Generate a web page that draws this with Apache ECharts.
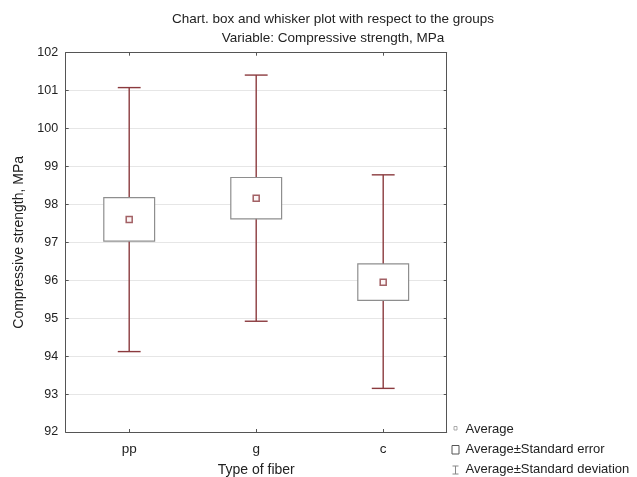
<!DOCTYPE html>
<html>
<head>
<meta charset="utf-8">
<script src="https://cdn.jsdelivr.net/npm/echarts@6/dist/echarts.min.js"></script>
<style>
html,body{margin:0;padding:0;background:#fff;}
#chart{width:637px;height:477px;}
</style>
</head>
<body>
<div id="chart"></div>
<script>
const categories = ['pp', 'g', 'c'];
const means  = [97.60, 98.16, 95.95];
const seLow  = [97.03, 97.62, 95.47];
const seHigh = [98.18, 98.71, 96.43];
const sdLow  = [94.12, 94.92, 93.15];
const sdHigh = [101.08, 101.41, 98.78];
const yTicks = [92, 93, 94, 95, 96, 97, 98, 99, 100, 101, 102];

const FONT = 'Liberation Sans, Arial, sans-serif';
const WHISKER = '#8b3a3e';
const BOXC = '#8e8e8e';
const AXIS = '#555';

const chart = echarts.init(document.getElementById('chart'), null, {renderer: 'canvas'});

const sdData = categories.map((c, i) => [i, sdLow[i], sdHigh[i]]);
const seData = categories.map((c, i) => [i, seLow[i], seHigh[i]]);
const meanData = categories.map((c, i) => [i, means[i]]);

const axisCommon = {
  axisLine: {show: true, lineStyle: {color: AXIS, width: 1}},
};

chart.setOption({
  animation: false,
  backgroundColor: '#fff',
  textStyle: {fontFamily: FONT},
  title: {
    text: 'Chart. box and whisker plot with respect to the groups\nVariable: Compressive strength, MPa',
    left: 328,
    top: 5,
    textAlign: 'center',
    textStyle: {fontFamily: FONT, fontSize: 13.5, fontWeight: 'normal', color: '#222', lineHeight: 19}
  },
  grid: {left: 65.7, right: 190.3, top: 52.7, bottom: 45, containLabel: false, outerBoundsMode: 'none'},
  legend: {
    orient: 'vertical',
    left: 450,
    top: 423,
    padding: 0,
    itemWidth: 10,
    itemHeight: 10,
    itemGap: 7,
    textStyle: {fontFamily: FONT, fontSize: 13, color: '#222'},
    selectedMode: false,
    data: [
      {name: 'Average', icon: 'path://M0,0M10,10M3.5,2h3v3.5h-3z',
       itemStyle: {color: 'transparent', borderColor: '#999', borderWidth: 1}},
      {name: 'Average±Standard error', icon: 'path://M0,0M10,10M1.5,1h7v8.5h-7z',
       itemStyle: {color: 'transparent', borderColor: '#555', borderWidth: 1}},
      {name: 'Average±Standard deviation', icon: 'path://M0,0M10,10M2,1.5h6M5,1.5v8M2,9.5h6',
       itemStyle: {color: 'transparent', borderColor: '#888', borderWidth: 1}}
    ]
  },
  xAxis: [
    Object.assign({}, axisCommon, {
      type: 'category', data: categories, position: 'bottom',
      name: 'Type of fiber', nameLocation: 'middle', nameGap: 31,
      nameTextStyle: {fontFamily: FONT, fontSize: 14, color: '#222'},
      axisTick: {show: true, inside: true, length: 3, alignWithLabel: true, lineStyle: {color: AXIS}},
      axisLabel: {fontFamily: FONT, fontSize: 13.5, color: '#222', margin: 10},
      splitLine: {show: false}
    }),
    Object.assign({}, axisCommon, {
      type: 'category', data: categories, position: 'top',
      axisTick: {show: true, inside: true, length: 3, alignWithLabel: true, lineStyle: {color: AXIS}},
      axisLabel: {show: false},
      splitLine: {show: false}
    })
  ],
  yAxis: [
    Object.assign({}, axisCommon, {
      type: 'value', min: yTicks[0], max: yTicks[yTicks.length - 1], interval: 1,
      position: 'left',
      name: 'Compressive strength, MPa', nameLocation: 'middle', nameGap: 36, nameRotate: 90,
      nameTextStyle: {fontFamily: FONT, fontSize: 14, color: '#222'},
      axisTick: {show: true, inside: true, length: 3, lineStyle: {color: AXIS}},
      axisLabel: {fontFamily: FONT, fontSize: 12.5, color: '#222', margin: 7.5},
      splitLine: {show: true, lineStyle: {color: '#e6e6e6', width: 1}}
    }),
    Object.assign({}, axisCommon, {
      type: 'value', min: yTicks[0], max: yTicks[yTicks.length - 1], interval: 1,
      position: 'right',
      axisTick: {show: true, inside: true, length: 3, lineStyle: {color: AXIS}},
      axisLabel: {show: false},
      splitLine: {show: false}
    })
  ],
  series: [
    {
      name: 'Average±Standard deviation',
      type: 'custom',
      xAxisIndex: 0, yAxisIndex: 0,
      data: sdData,
      encode: {x: 0, y: [1, 2]},
      itemStyle: {color: WHISKER},
      renderItem: function (params, api) {
        const x = api.value(0);
        const lo = api.coord([x, api.value(1)]);
        const hi = api.coord([x, api.value(2)]);
        const bw = api.size([1, 0])[0];
        const cap = bw * 0.09;
        const st = {stroke: WHISKER, lineWidth: 1.4, fill: null};
        return {
          type: 'group',
          children: [
            {type: 'line', shape: {x1: lo[0], y1: lo[1], x2: hi[0], y2: hi[1]}, style: st},
            {type: 'line', shape: {x1: hi[0] - cap, y1: hi[1], x2: hi[0] + cap, y2: hi[1]}, style: st},
            {type: 'line', shape: {x1: lo[0] - cap, y1: lo[1], x2: lo[0] + cap, y2: lo[1]}, style: st}
          ]
        };
      },
      z: 2
    },
    {
      name: 'Average±Standard error',
      type: 'custom',
      xAxisIndex: 0, yAxisIndex: 0,
      data: seData,
      encode: {x: 0, y: [1, 2]},
      itemStyle: {color: BOXC},
      renderItem: function (params, api) {
        const x = api.value(0);
        const lo = api.coord([x, api.value(1)]);
        const hi = api.coord([x, api.value(2)]);
        const bw = api.size([1, 0])[0];
        const half = bw * 0.2;
        return {
          type: 'rect',
          shape: {x: lo[0] - half, y: hi[1], width: half * 2, height: lo[1] - hi[1]},
          style: {fill: '#fff', stroke: BOXC, lineWidth: 1.2}
        };
      },
      z: 3
    },
    {
      name: 'Average',
      type: 'scatter',
      xAxisIndex: 0, yAxisIndex: 0,
      data: meanData,
      symbol: 'rect',
      symbolSize: 6,
      itemStyle: {color: '#fbf3f3', borderColor: WHISKER, borderWidth: 1.5},
      z: 4
    }
  ]
});
</script>
</body>
</html>
